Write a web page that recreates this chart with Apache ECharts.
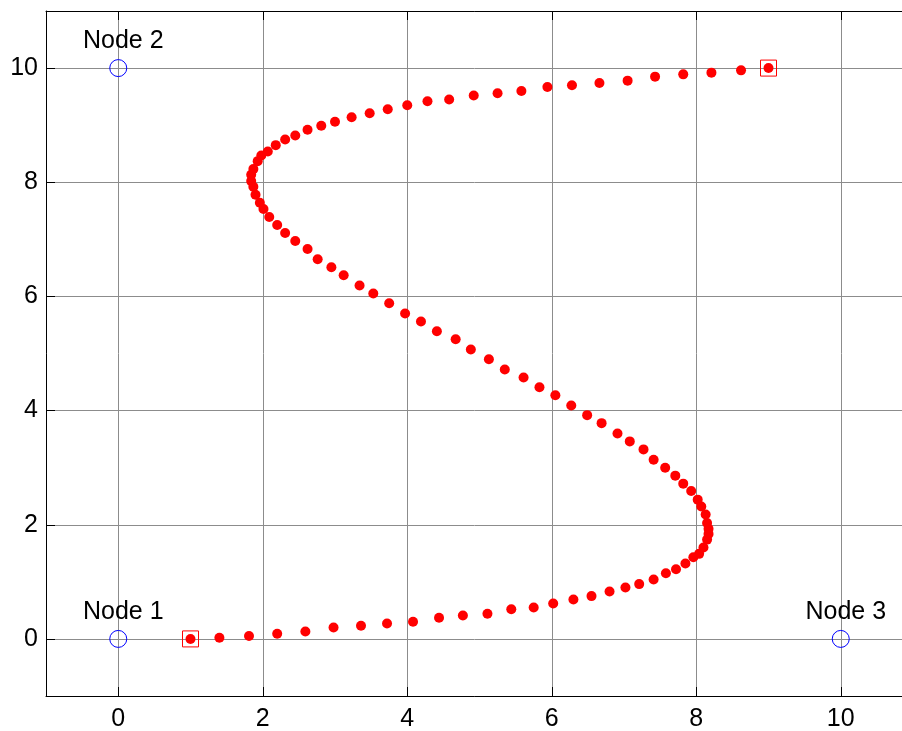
<!DOCTYPE html>
<html><head><meta charset="utf-8">
<script src="https://cdn.jsdelivr.net/npm/echarts@6/dist/echarts.min.js"></script>
<style>html,body{margin:0;padding:0;background:#fff}#chart{width:902px;height:731px}</style>
</head><body><div id="chart"></div>
<script>
// Trajectory points
const curveX = [1.00,1.40,1.81,2.20,2.59,2.98,3.36,3.72,4.08,4.44,4.77,
  5.11,5.44,5.75,6.02,6.30,6.55,6.80,7.02,7.21,7.41,7.58,7.72,7.85,7.96,8.04,8.10,8.15,8.17,8.17,8.15,8.13,8.07,8.02,7.93,7.82,
  7.71,7.57,7.41,7.27,7.08,6.91,6.69,6.49,6.27,6.05,5.83,5.61,5.35,5.13,4.88,4.67,4.41,4.19,3.97,
  3.75,3.53,3.34,3.12,2.95,2.76,2.62,2.45,2.31,2.20,2.09,2.01,1.96,1.90,1.87,1.84,1.84,1.87,1.93,1.98,2.07,2.18,2.31,2.45,2.62,2.81,
  3.00,3.23,3.48,3.73,4.00,4.28,4.58,4.92,5.25,5.58,5.94,6.28,
  6.66,7.05,7.43,7.82,8.21,8.62,9.00];
const curveY = [0.00,0.02,0.05,0.09,0.13,0.20,0.23,0.27,0.30,0.37,0.41,
  0.44,0.52,0.55,0.62,0.69,0.75,0.83,0.90,0.96,1.04,1.15,1.22,1.32,1.43,1.49,1.60,1.74,1.84,1.93,2.03,2.18,2.32,2.44,2.59,2.72,
  2.86,3.00,3.14,3.32,3.46,3.60,3.78,3.92,4.09,4.27,4.41,4.58,4.72,4.90,5.07,5.25,5.39,5.56,5.70,
  5.88,6.05,6.19,6.37,6.51,6.65,6.83,6.97,7.11,7.25,7.39,7.53,7.64,7.78,7.92,8.02,8.13,8.23,8.37,8.47,8.54,8.65,8.75,8.82,8.92,8.99,
  9.06,9.14,9.21,9.28,9.35,9.42,9.45,9.52,9.56,9.60,9.67,9.70,
  9.74,9.78,9.85,9.89,9.92,9.96,10.00];
// Start / end markers
const endX = [1, 9];
const endY = [0, 10];
// Nodes
const nodeNames = ['Node 1', 'Node 2', 'Node 3'];
const nodeX = [0, 0, 10];
const nodeY = [0, 10, 0];
// Tick labels
const xTickValues = [0, 2, 4, 6, 8, 10];
const yTickValues = [0, 2, 4, 6, 8, 10];

const FONT = '"Liberation Sans", Arial, Helvetica, sans-serif';
const chart = echarts.init(document.getElementById('chart'), null, {renderer: 'canvas'});

function mainAxis(ticks, margin) {
  return {
    type: 'value', min: -1, max: 11, splitNumber: 6,
    axisLine: {show: true, onZero: false, lineStyle: {color: '#000', width: 1}},
    axisTick: {show: true, inside: true, length: 9, lineStyle: {color: '#000', width: 1}},
    axisLabel: {
      show: true, margin: margin, color: '#000', fontSize: 25, fontFamily: FONT,
      showMinLabel: false, showMaxLabel: false,
      formatter: v => ticks.includes(v) ? String(v) : ''
    },
    splitLine: {show: true, lineStyle: {color: '#8c8c8c', width: 1, type: 'solid'}},
    minorTick: {show: false}
  };
}

const option = {
  animation: false,
  backgroundColor: '#fff',
  grid: {left: 46, top: 11, right: -11, bottom: 35, containLabel: false, outerBoundsMode: 'none', show: false},
  xAxis: [
    Object.assign(mainAxis(xTickValues, 11), {position: 'bottom'}),
    {
      type: 'value', min: -1, max: 11, splitNumber: 6, position: 'top',
      axisLine: {show: true, onZero: false, lineStyle: {color: '#000', width: 1}},
      axisTick: {show: true, inside: true, length: 9, lineStyle: {color: '#000', width: 1}},
      axisLabel: {show: false}, splitLine: {show: false}
    }
  ],
  yAxis: [
    Object.assign(mainAxis(yTickValues, 8), {position: 'left'})
  ],
  series: [
    {
      type: 'scatter', name: 'path', symbol: 'circle', symbolSize: 10,
      itemStyle: {color: '#ff0000', opacity: 1},
      data: curveX.map((x, i) => [x, curveY[i]]),
      z: 3
    },
    {
      type: 'scatter', name: 'ends', symbol: 'rect', symbolSize: 16,
      itemStyle: {color: 'rgba(0,0,0,0)', borderColor: '#ff0000', borderWidth: 1, opacity: 1},
      data: endX.map((x, i) => [x, endY[i]]),
      z: 4
    },
    {
      type: 'scatter', name: 'nodes', symbol: 'circle', symbolSize: 17,
      itemStyle: {color: 'rgba(0,0,0,0)', borderColor: '#0000ff', borderWidth: 1, opacity: 1},
      label: {
        show: true, position: 'top', distance: 5, offset: [5, 0],
        color: '#000', fontSize: 25, fontFamily: FONT,
        formatter: p => nodeNames[p.dataIndex]
      },
      data: nodeX.map((x, i) => [x, nodeY[i]]),
      z: 4
    }
  ]
};
chart.setOption(option);
</script>
</body></html>
